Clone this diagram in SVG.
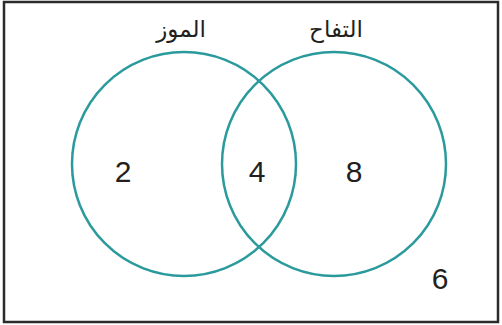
<svg xmlns="http://www.w3.org/2000/svg" width="502" height="325" viewBox="0 0 502 325">
<style>
.set{fill:none;stroke:#2b9a9d;stroke-width:2.5}
.num{font-family:"Liberation Sans",Arial,sans-serif;font-size:30px;fill:#231f20;text-anchor:middle}
.lbl{font-family:"DejaVu Sans","Noto Sans",sans-serif;font-size:23px;fill:#231f20;text-anchor:middle}
</style>
<rect x="4" y="2" width="494" height="320" fill="#fff" stroke="#2b2b2b" stroke-width="2.5"/>
<g id="banana">
<circle class="set" cx="184" cy="164" r="112"/>
<text class="lbl" x="181" y="37" direction="rtl">الموز</text>
</g>
<g id="apple">
<circle class="set" cx="334" cy="164" r="112"/>
<text class="lbl" x="336" y="37" direction="rtl">التفاح</text>
</g>
<g id="values">
<text class="num" x="123" y="182">2</text>
<text class="num" x="257" y="182">4</text>
<text class="num" x="354" y="182">8</text>
<text class="num" x="440" y="289">6</text>
</g>
<g id="connectors"/>
</svg>
